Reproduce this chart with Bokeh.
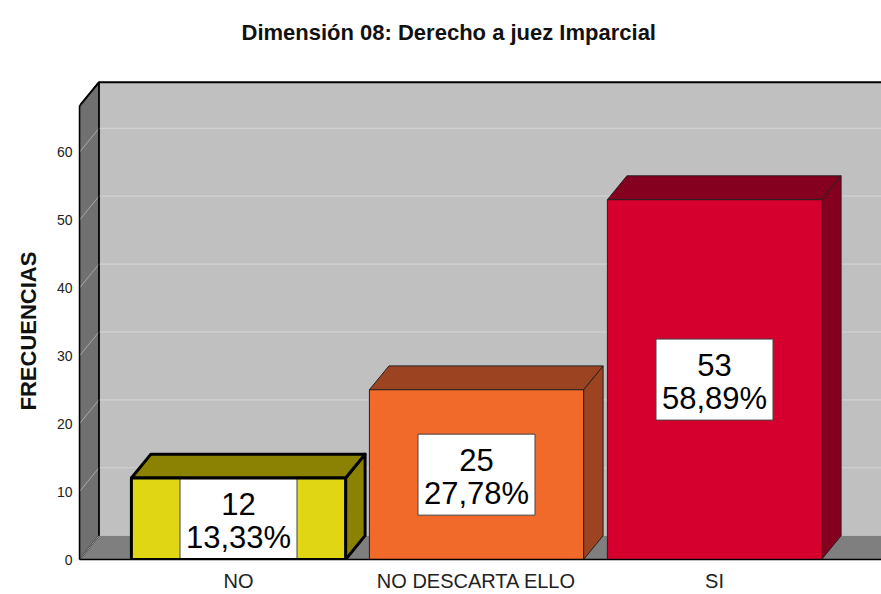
from bokeh.plotting import figure
from bokeh.models import Range1d, FixedTicker, Title
from bokeh.embed import file_html
from bokeh.resources import INLINE
from bokeh.core.properties import value

# ---- data ----
categories = ["NO", "NO DESCARTA ELLO", "SI"]
counts = [12, 25, 53]
percents = ["13,33%", "27,78%", "58,89%"]
y_ticks = [0, 10, 20, 30, 40, 50, 60]
front_colors = ["#E1D614", "#F26A2A", "#D6002F"]
shade_colors = ["#8B8203", "#9C4321", "#85001E"]
title_text = "Dimensión 08: Derecho a juez Imparcial"
y_label = "FRECUENCIAS"

# ---- geometry (styles) ----
W, H = 881, 594
LEFT, TOP, BOTTOM = 79, 60, 33
PX_PER_CAT = 238.0
PX_PER_UNIT = 6.83
X0 = (LEFT - PX_PER_CAT) / PX_PER_CAT
X1 = (W - PX_PER_CAT) / PX_PER_CAT
Y0, Y1 = 0, (H - TOP - BOTTOM) / PX_PER_UNIT
DX = 19.5 / PX_PER_CAT
DY = 24.0 / PX_PER_UNIT
HW = 0.45
WALL_TOP = 66.8
FONT = "Liberation Sans"

p = figure(width=W, height=H, x_range=Range1d(X0, X1), y_range=Range1d(Y0, Y1),
           output_backend="svg", toolbar_location=None,
           min_border_left=LEFT, min_border_right=0, min_border_top=TOP, min_border_bottom=BOTTOM)
p.xgrid.visible = False
p.ygrid.visible = False
p.outline_line_color = None
p.background_fill_color = "white"
p.border_fill_color = "white"

XR = X1 + 1.0
# back wall
p.patch([X0 + DX, XR, XR, X0 + DX], [DY, DY, WALL_TOP + DY, WALL_TOP + DY],
        fill_color="#C0C0C0", line_color=None)
# floor
p.patch([X0, XR, XR + DX, X0 + DX], [0, 0, DY, DY], fill_color="#7F7F7F", line_color=None)
# left wall
p.patch([X0, X0, X0 + DX, X0 + DX], [0, WALL_TOP, WALL_TOP + DY, DY],
        fill_color="#707070", line_color="black", line_width=1.2)

# gridlines
back_ticks = [t for t in y_ticks if t > 0]
p.segment(x0=[X0 + DX] * len(back_ticks), y0=[t + DY for t in back_ticks],
          x1=[XR] * len(back_ticks), y1=[t + DY for t in back_ticks],
          line_color="#D2D2D2", line_width=1.2)
p.segment(x0=[X0] * len(y_ticks), y0=y_ticks,
          x1=[X0 + DX] * len(y_ticks), y1=[t + DY for t in y_ticks],
          line_color="#A8A8A8", line_width=1)

# wall edges
p.line([X0, X0 + DX, XR], [WALL_TOP, WALL_TOP + DY, WALL_TOP + DY], line_color="black", line_width=2)
p.line([X0 + DX, X0 + DX], [DY, WALL_TOP + DY], line_color="black", line_width=1.5)

# bars
xs = list(range(len(categories)))
lw = [3, 1, 1]
lc = ["black", "#222222", "#222222"]
for i, c in enumerate(counts):
    p.patch([i + HW, i + HW, i + HW + DX, i + HW + DX], [0, c, c + DY, DY],
            fill_color=shade_colors[i], line_color=lc[i], line_width=lw[i], line_join="round")
    p.patch([i - HW, i - HW + DX, i + HW + DX, i + HW], [c, c + DY, c + DY, c],
            fill_color=shade_colors[i], line_color=lc[i], line_width=lw[i], line_join="round")

p.quad(left=[i - HW for i in xs], right=[i + HW for i in xs], bottom=[0] * len(xs), top=counts,
       fill_color=front_colors, line_color=None)

# label boxes
p.rect(x=xs, y=[c / 2 for c in counts], width=117, height=81,
       width_units="screen", height_units="screen",
       fill_color="white", line_color="#444444", line_width=1)

p.quad(left=[i - HW for i in xs], right=[i + HW for i in xs], bottom=[0] * len(xs), top=counts,
       fill_color=None, line_color=lc, line_width=lw, line_join="round")

p.text(x=xs, y=[c / 2 for c in counts], text=[str(c) for c in counts], y_offset=-15,
       text_align="center", text_baseline="middle", text_font=value(FONT),
       text_font_size="31px", text_color="black")
p.text(x=xs, y=[c / 2 for c in counts], text=percents, y_offset=19,
       text_align="center", text_baseline="middle", text_font=value(FONT),
       text_font_size="31px", text_color="black")

# axes
p.yaxis.ticker = FixedTicker(ticks=y_ticks)
p.yaxis.bounds = (0, WALL_TOP)
p.yaxis.major_tick_out = 0
p.yaxis.major_tick_in = 0
p.yaxis.major_tick_line_color = None
p.yaxis.minor_tick_line_color = None
p.yaxis.axis_line_color = "black"
p.yaxis.axis_line_width = 1.5
p.yaxis.major_label_standoff = 7
p.yaxis.major_label_text_font = FONT
p.yaxis.major_label_text_font_size = "14px"
p.yaxis.major_label_text_color = "#222222"

p.xaxis.ticker = FixedTicker(ticks=xs)
p.xaxis.major_label_overrides = {i: categories[i] for i in xs}
p.xaxis.major_tick_out = 0
p.xaxis.major_tick_in = 0
p.xaxis.major_tick_line_color = None
p.xaxis.minor_tick_line_color = None
p.xaxis.axis_line_color = "black"
p.xaxis.axis_line_width = 1.5
p.xaxis.major_label_standoff = 10
p.xaxis.major_label_text_font = FONT
p.xaxis.major_label_text_font_size = "20px"
p.xaxis.major_label_text_color = "#222222"

# y-axis title (vertical title on the left panel)
ytitle = Title(text=y_label, align="left", offset=149, standoff=26,
               text_font=FONT, text_font_size="22px", text_font_style="bold",
               text_color="#111111")
p.add_layout(ytitle, "left")

# title
p.title.text = title_text
p.title.text_font = FONT
p.title.text_font_size = "22px"
p.title.text_font_style = "bold"
p.title.text_color = "#111111"
p.title.align = "left"
p.title.offset = 162
p.title.standoff = 34

open("out.html", "w").write(file_html(p, INLINE))
